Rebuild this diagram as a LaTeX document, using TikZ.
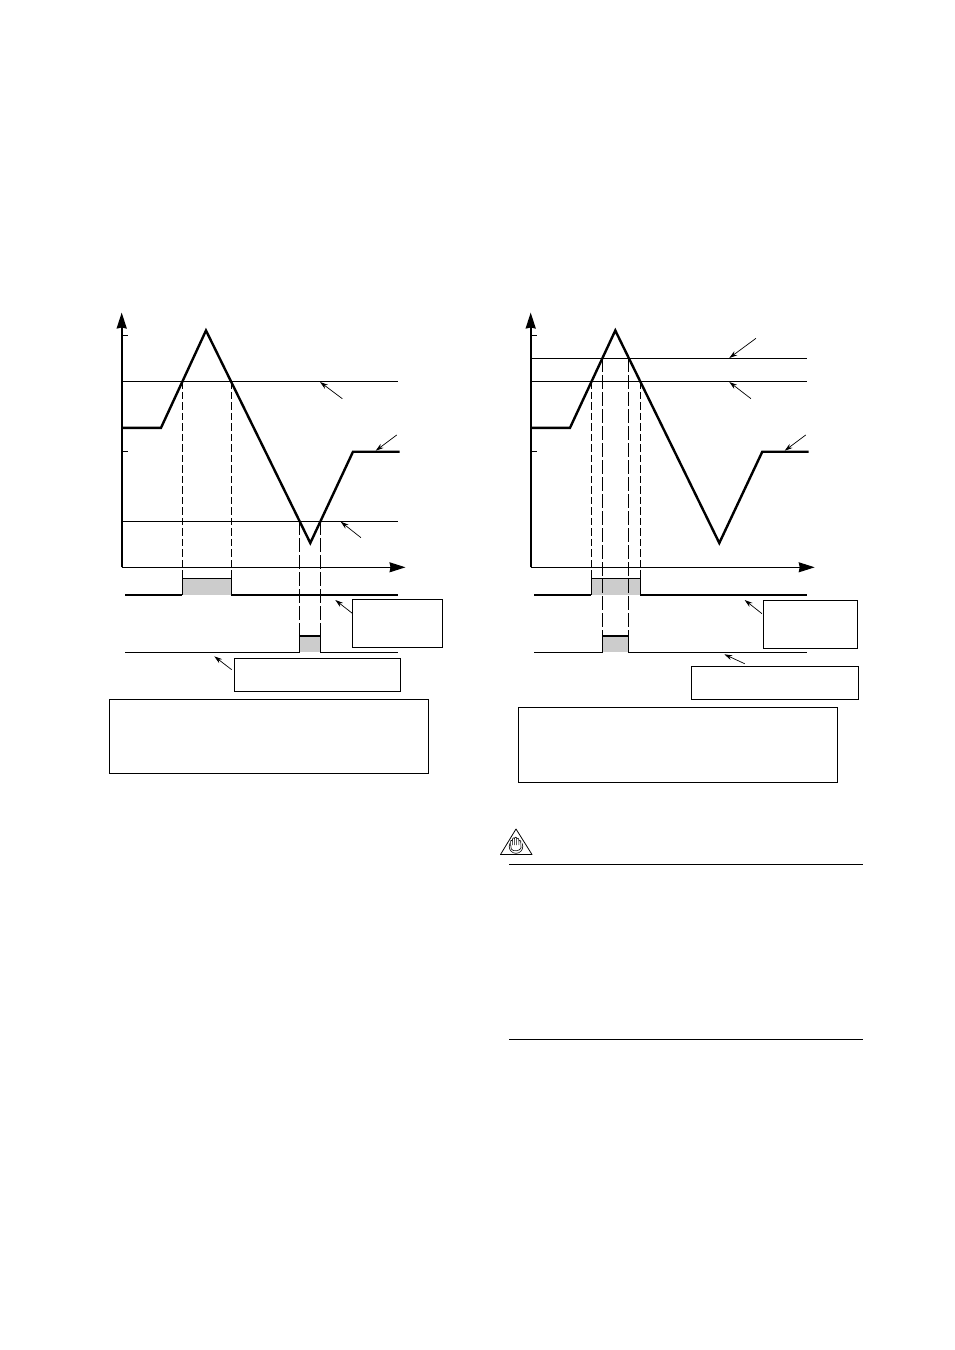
\documentclass[tikz,border=0pt]{standalone}
\usetikzlibrary{arrows.meta}
\definecolor{pulsegray}{HTML}{CCCCCC}
\tikzset{
  axisline/.style={line width=1.8pt,-{Stealth[length=16pt,width=10pt,inset=1pt]}},
  axisthin/.style={line width=1pt,-{Stealth[length=16pt,width=10pt,inset=1pt]}},
  tickline/.style={line width=.8pt},
  levelline/.style={line width=1pt},
  curveline/.style={line width=2.4pt,line join=miter},
  dropshort/.style={line width=.8pt,dash pattern=on 7.5pt off 3pt},
  droplong/.style={line width=.9pt,dash pattern=on 14pt off 3pt},
  pulsethick/.style={line width=1.8pt},
  pulsethin/.style={line width=1pt},
  callout/.style={line width=.7pt,-{Stealth[length=8pt,width=5pt]}},
  emptybox/.style={draw,line width=1pt,fill=white,inner sep=0pt,outer sep=0pt,rectangle},
  rulestyle/.style={line width=.9pt}
}
\begin{document}
\begin{tikzpicture}[x=1pt,y=-1pt]
\useasboundingbox (0,0) rectangle (954,1350);
\fill[white] (0,0) rectangle (954,1350);

% ---------- LEFT PANEL ----------
\fill[pulsegray] (182.3,578.5) rectangle (231.3,595);
\fill[pulsegray] (299.3,636) rectangle (320.3,652.3);
\draw[dropshort] (182.3,381.3) -- (182.3,578.5);
\draw[dropshort] (231.3,381.3) -- (231.3,578.5);
\draw[droplong] (299.3,521.3) -- (299.3,636);
\draw[droplong] (320.3,521.3) -- (320.3,636);
\draw[levelline] (122,381.3) -- (398,381.3);
\draw[levelline] (122,521.3) -- (398,521.3);
\draw[tickline] (122,335) -- (128,335);
\draw[tickline] (122,451.7) -- (128,451.7);
\draw[curveline] (122,427.8) -- (161,427.8) -- (206,330.5) -- (310.3,543) -- (353,451.7) -- (399.5,451.7);
\coordinate (LO) at (121.7,567.3);
\coordinate (LY) at (121.7,312.5);
\coordinate (LX) at (405.5,567.3);
\draw[axisthin] (LO) -- (LX);
\draw[axisline] (LO) -- (LY);
\draw[pulsethin] (182.3,594.7) -- (182.3,578.5) -- (231.3,578.5) -- (231.3,594.7);
\draw[pulsethick] (125,594.7) -- (182.3,594.7);
\draw[pulsethick] (231.3,594.7) -- (398,594.7);
\draw[pulsethin] (125,652.3) -- (299.3,652.3) -- (299.3,636);
\draw[pulsethin] (320.3,636) -- (320.3,652.3) -- (398,652.3);
\draw[pulsethick] (299.3,636) -- (320.3,636);

\node[emptybox,minimum width=90pt,minimum height=48pt] (lb1) at (397.3,623.3) {};
\node[emptybox,minimum width=166pt,minimum height=33pt] (lb2) at (317.3,674.8) {};
\node[emptybox,minimum width=319pt,minimum height=74pt] (lb3) at (268.8,736.3) {};

\coordinate (la1s) at (342.3,398.7); \coordinate (la1e) at (320,382);
\coordinate (la2s) at (396.7,435);   \coordinate (la2e) at (375.7,450.7);
\coordinate (la3s) at (361,537.7);   \coordinate (la3e) at (340.7,521.7);
\coordinate (la4s) at (352.3,613.3); \coordinate (la4e) at (335.3,600);
\coordinate (la5s) at (231.7,669.7); \coordinate (la5e) at (214.3,656.3);
\draw[callout] (la1s) -- (la1e);
\draw[callout] (la2s) -- (la2e);
\draw[callout] (la3s) -- (la3e);
\draw[callout] (la4s) -- (la4e);
\draw[callout] (la5s) -- (la5e);

% ---------- RIGHT PANEL ----------
\fill[pulsegray] (591.3,578.5) rectangle (640.3,595);
\fill[pulsegray] (602.3,636) rectangle (628.3,652.3);
\draw[dropshort] (591.3,381.3) -- (591.3,578.5);
\draw[dropshort] (640.3,381.3) -- (640.3,578.5);
\draw[droplong] (602.3,358.3) -- (602.3,636);
\draw[droplong] (628.3,358.3) -- (628.3,636);
\draw[levelline] (531,358.3) -- (806.7,358.3);
\draw[levelline] (531,381.3) -- (806.7,381.3);
\draw[tickline] (531,335) -- (537,335);
\draw[tickline] (531,451.7) -- (537,451.7);
\draw[curveline] (531,427.8) -- (570,427.8) -- (615.3,330.5) -- (719.3,543) -- (762.3,451.7) -- (808.7,451.7);
\coordinate (RO) at (530.7,567.3);
\coordinate (RY) at (530.7,312.5);
\coordinate (RX) at (814.7,567.3);
\draw[axisthin] (RO) -- (RX);
\draw[axisline] (RO) -- (RY);
\draw[pulsethin] (591.3,594.7) -- (591.3,578.5) -- (640.3,578.5) -- (640.3,594.7);
\draw[pulsethick] (534,594.7) -- (591.3,594.7);
\draw[pulsethick] (640.3,594.7) -- (806.7,594.7);
\draw[pulsethin] (534,652.3) -- (602.3,652.3) -- (602.3,636);
\draw[pulsethin] (628.3,636) -- (628.3,652.3) -- (806.7,652.3);
\draw[pulsethick] (602.3,636) -- (628.3,636);

\node[emptybox,minimum width=94.4pt,minimum height=48pt] (rb1) at (810.5,624.3) {};
\node[emptybox,minimum width=167.4pt,minimum height=33pt] (rb2) at (775,682.8) {};
\node[emptybox,minimum width=319pt,minimum height=75pt] (rb3) at (677.8,744.8) {};

\coordinate (ra1s) at (756,338.3);   \coordinate (ra1e) at (729.3,358);
\coordinate (ra2s) at (751,398.7);   \coordinate (ra2e) at (729.3,382);
\coordinate (ra3s) at (805.7,435);   \coordinate (ra3e) at (784.7,450.7);
\coordinate (ra4s) at (762,613.7);   \coordinate (ra4e) at (744.7,600);
\coordinate (ra5s) at (744.7,663.7); \coordinate (ra5e) at (724.3,654.3);
\draw[callout] (ra1s) -- (ra1e);
\draw[callout] (ra2s) -- (ra2e);
\draw[callout] (ra3s) -- (ra3e);
\draw[callout] (ra4s) -- (ra4e);
\draw[callout] (ra5s) -- (ra5e);

% ---------- NOTE SYMBOL AND RULES ----------
\draw[line width=.8pt,line join=round] (516,829) -- (500.5,854.5) -- (532,854.5) -- cycle;
\draw[line width=1.6pt] (500.5,854.6) -- (532,854.6);
\draw[line width=.6pt] (516,846.5) circle (6.8pt);
\fill[white] (510.2,846) -- (510.2,841.5) -- (512,838.5) -- (515,837.5) -- (519,838.5) -- (522,842) -- (521.8,848) -- (516,851.5) -- (511.5,850) -- cycle;
\draw[line width=.6pt,line join=round] (510.6,844.5) -- (510.6,841) .. controls (510.8,840) and (512,840) .. (512.4,841) -- (512.6,838.6) .. controls (513,837.6) and (514.2,837.6) .. (514.5,838.6) -- (514.7,837.8) .. controls (515,836.9) and (516.2,836.9) .. (516.5,837.8) -- (516.8,838.8) .. controls (517.2,837.9) and (518.3,837.9) .. (518.6,838.8) -- (518.9,841) .. controls (519.3,840.2) and (520.4,840.2) .. (520.7,841) -- (521,848) .. controls (520,851) and (513,852) .. (511.3,849) -- (510.6,844.5);
\draw[line width=.5pt] (512.5,841) -- (512.7,845) (514.6,838.6) -- (514.7,845) (516.7,838.6) -- (516.7,845) (518.8,841) -- (518.8,845);
\draw[rulestyle] (509,864.5) -- (862.5,864.5);
\draw[rulestyle] (509,1039.5) -- (862.5,1039.5);
\end{tikzpicture}
\end{document}
